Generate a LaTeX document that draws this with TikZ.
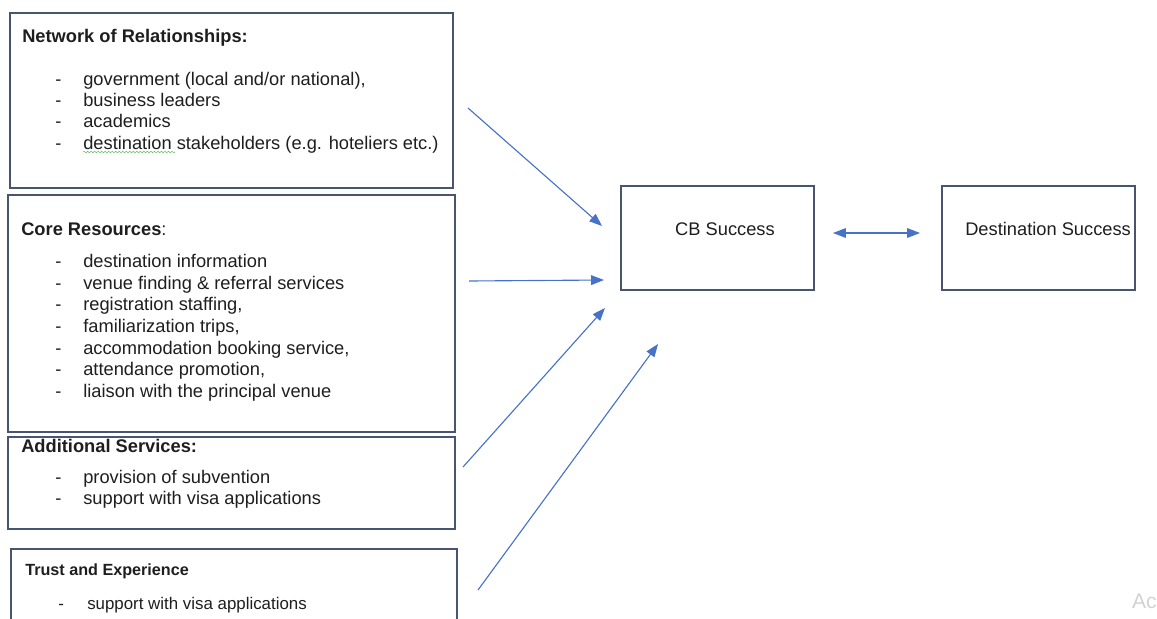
\documentclass[tikz,border=0pt]{standalone}
\usepackage{fontspec}
\setmainfont{Liberation Sans}
\usetikzlibrary{arrows.meta}
\usetikzlibrary{decorations.pathmorphing}
\definecolor{frame}{RGB}{72,84,112}
\definecolor{flow}{RGB}{70,114,200}
\definecolor{ink}{RGB}{30,30,30}

\begin{document}
\begin{tikzpicture}[x=0.025cm,y=-0.025cm,>={Triangle[length=3.2mm,width=2.4mm]},
  box/.style={draw=frame,line width=1.2pt},
  txt/.style={anchor=west,inner sep=0pt,text height=12pt,text depth=1.5pt,text=ink,font=\fontsize{13}{15}\selectfont},
  head/.style={txt,font=\fontsize{13}{15}\selectfont\bfseries},
  small/.style={txt,font=\fontsize{12}{14}\selectfont},
  link/.style={draw=flow,line width=0.8pt,->}]
\useasboundingbox (0,0) rectangle (1157,618);
% boxes
\draw[box] (10,13) rectangle (453,188);
\draw[box] (8,195) rectangle (455,432);
\draw[box] (8,437) rectangle (455,529);
\draw[box] (11,549) rectangle (457,640);
\draw[box] (621,186) rectangle (814,290);
\draw[box] (942,186) rectangle (1135,290);
% network of relationships
\node[head] (nethead) at (22,35) {Network of Relationships:};
\foreach \t [count=\i from 0] in {{government (local and/or national),},business leaders,academics,{destination stakeholders (e.g. hoteliers etc.)}}{
\node[txt] (netdash\i) at (55,78+21.3*\i) {-};
\node[txt] (net\i) at (83,78+21.3*\i) {\t};
}
\draw[decorate,decoration={snake,amplitude=0.5pt,segment length=2.5pt},green!60!black!60] (83,152) -- (175,152);
% core resources
\node[txt] (corehead) at (21,228) {\textbf{Core Resources}:};
\foreach \t [count=\i from 0] in {destination information,venue finding \& referral services,{registration staffing,},{familiarization trips,},{accommodation booking service,},{attendance promotion,},liaison with the principal venue}{
\node[txt] (coredash\i) at (55,260+21.67*\i) {-};
\node[txt] (core\i) at (83,260+21.67*\i) {\t};
}
% additional services
\node[head] (addhead) at (21,445) {Additional Services:};
\foreach \t [count=\i from 0] in {provision of subvention,support with visa applications}{
\node[txt] (adddash\i) at (55,476+21.3*\i) {-};
\node[txt] (add\i) at (83,476+21.3*\i) {\t};
}
% trust and experience
\node[small,font=\fontsize{11.5}{14}\selectfont\bfseries] (trusthead) at (25,568) {Trust and Experience};
\node[small] (trustdash) at (58,602) {-};
\node[small] (trust0) at (87,602) {support with visa applications};
% outcomes
\node[txt,anchor=center] (cb) at (725,228) {CB Success};
\node[txt] (dest) at (965,228) {Destination Success};
\node[txt,anchor=east,text=gray!35,font=\fontsize{15}{18}\selectfont] (ac) at (1157,601) {Ac};
% arrows
\coordinate (n1) at (468,108);
\coordinate (n2) at (602,226);
\coordinate (c1) at (469,281);
\coordinate (c2) at (604,280);
\coordinate (a1) at (463,467);
\coordinate (a2) at (605,308);
\coordinate (t1) at (478,590);
\coordinate (t2) at (658,344);
\coordinate (d1) at (833,233);
\coordinate (d2) at (920,233);
\draw[link] (n1) -- (n2);
\draw[link] (c1) -- (c2);
\draw[link] (a1) -- (a2);
\draw[link] (t1) -- (t2);
\draw[link,<->] (d1) -- (d2);
\end{tikzpicture}
\end{document}
